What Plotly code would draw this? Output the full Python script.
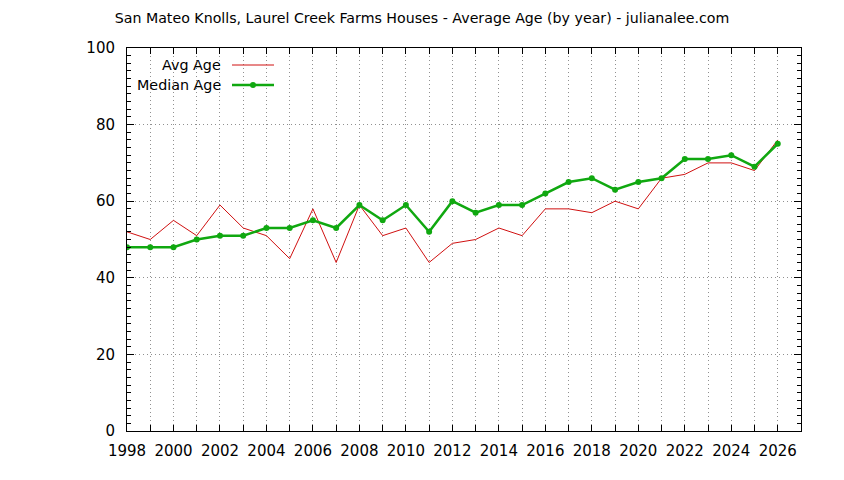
import plotly.graph_objects as go

years = list(range(1998, 2027))
avg_age = [52, 50, 55, 51, 59, 53, 51, 45, 58, 44, 59, 51, 53, 44, 49, 50, 53, 51,
           58, 58, 57, 60, 58, 66, 67, 70, 70, 68, 76]
median_age = [48, 48, 48, 50, 51, 51, 53, 53, 55, 53, 59, 55, 59, 52, 60, 57, 59, 59,
              62, 65, 66, 63, 65, 66, 71, 71, 72, 69, 75]
tick_years = list(range(1998, 2028))
tick_text = [str(y) if y % 2 == 0 and y <= 2026 else '' for y in tick_years]

RED = '#d01010'
GREEN = '#10a810'
FONT = 'DejaVu Sans'

# page body has an 8px margin, so the figure is a bit smaller than the window
OFF = 8
W, H = 844 - OFF, 480 - OFF
L, R, T, B = 127 - OFF, 43, 48 - OFF, 49
plot_w = W - L - R
plot_h = H - T - B

def px_x(v):
    # screen pixel -> paper fraction
    return (v - OFF - L) / plot_w

def px_y(v):
    return (H - (v - OFF) - B) / plot_h

fig = go.Figure()
fig.add_trace(go.Scatter(x=years, y=avg_age, mode='lines', name='Avg Age',
                         line=dict(color=RED, width=1)))
fig.add_trace(go.Scatter(x=years, y=median_age, mode='lines+markers', name='Median Age',
                         line=dict(color=GREEN, width=2.5),
                         marker=dict(color=GREEN, size=6)))

# legend drawn gnuplot-style: text right-aligned, sample on the right
fig.add_annotation(x=px_x(223), y=px_y(65), xref='paper', yref='paper', text='Avg Age',
                   showarrow=False, xanchor='right', yanchor='middle',
                   font=dict(family=FONT, size=14.3, color='black'))
fig.add_annotation(x=px_x(223), y=px_y(85), xref='paper', yref='paper', text='Median Age',
                   showarrow=False, xanchor='right', yanchor='middle',
                   font=dict(family=FONT, size=14.3, color='black'))
fig.add_shape(type='line', xref='paper', yref='paper',
              x0=px_x(232), x1=px_x(274), y0=px_y(65), y1=px_y(65),
              line=dict(color=RED, width=1))
fig.add_shape(type='line', xref='paper', yref='paper',
              x0=px_x(232), x1=px_x(274), y0=px_y(85), y1=px_y(85),
              line=dict(color=GREEN, width=2.5))
fig.add_shape(type='circle', xref='paper', yref='paper',
              x0=px_x(250), x1=px_x(256), y0=px_y(82), y1=px_y(88),
              fillcolor=GREEN, line=dict(color=GREEN, width=0))

axis_common = dict(
    ticks='inside',
    tickcolor='black',
    showgrid=True,
    gridcolor='#909090',
    griddash='1px,3px',
    gridwidth=1,
    showline=True,
    linecolor='black',
    linewidth=1,
    mirror='ticks',
    zeroline=False,
    automargin=False,
    tickfont=dict(family=FONT, size=15, color='black'),
)

fig.update_layout(
    width=W,
    height=H,
    autosize=False,
    showlegend=False,
    plot_bgcolor='white',
    paper_bgcolor='white',
    margin=dict(l=L, r=R, t=T, b=B),
    font=dict(family=FONT, size=14, color='black'),
    title=dict(text='San Mateo Knolls, Laurel Creek Farms Houses - Average Age (by year) - julianalee.com',
               x=(422 - OFF) / W, xanchor='center', xref='container',
               y=1 - (18 - OFF) / H, yanchor='middle', yref='container', automargin=False,
               font=dict(family=FONT, size=14.2, color='black')),
    xaxis=dict(
        range=[1998, 2027],
        tickvals=tick_years,
        ticktext=tick_text,
        ticklen=6,
        ticklabelstandoff=6,
        **axis_common,
    ),
    yaxis=dict(
        range=[0, 100],
        tickvals=[0, 20, 40, 60, 80, 100],
        ticklen=7,
        ticklabelstandoff=8,
        minor=dict(dtick=2, ticks='inside', ticklen=4, tickcolor='black', showgrid=False),
        **axis_common,
    ),
)

fig.write_html("out.html")
